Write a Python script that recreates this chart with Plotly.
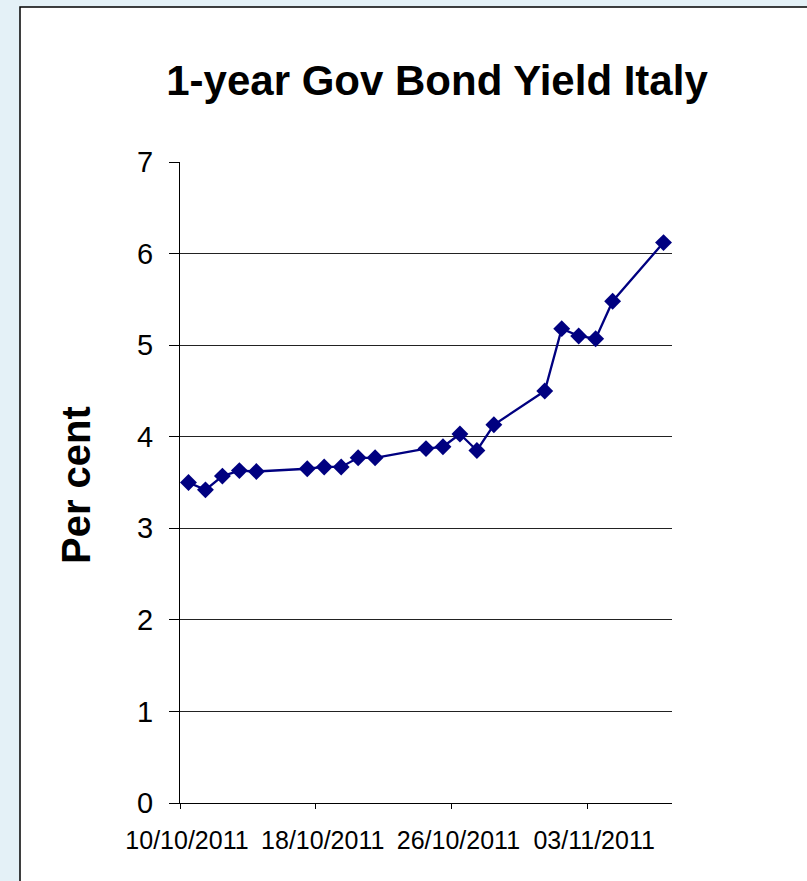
import pandas as pd
import plotly.graph_objects as go

# ---- data ----
dates = ["10/10/2011", "11/10/2011", "12/10/2011", "13/10/2011", "14/10/2011",
         "17/10/2011", "18/10/2011", "19/10/2011", "20/10/2011", "21/10/2011",
         "24/10/2011", "25/10/2011", "26/10/2011", "27/10/2011", "28/10/2011",
         "31/10/2011", "01/11/2011", "02/11/2011", "03/11/2011", "04/11/2011",
         "07/11/2011"]
yield_pct = [3.50, 3.42, 3.57, 3.63, 3.62,
             3.65, 3.67, 3.67, 3.77, 3.77,
             3.87, 3.89, 4.03, 3.85, 4.13,
             4.50, 5.18, 5.10, 5.07, 5.48,
             6.12]
tick_labels = ["10/10/2011", "18/10/2011", "26/10/2011", "03/11/2011"]
x_start, x_end = "10/10/2011", "08/11/2011"
y_ticks = [0, 1, 2, 3, 4, 5, 6, 7]

title_text = "1-year Gov Bond Yield Italy"
y_title = "Per cent"

# ---- layout geometry (pixels) ----
W, H = 807, 881
L, R, T, B = 180, 135, 162, 78
pw, ph = W - L - R, H - T - B

def px_x(p):
    return (p - L) / pw

def px_y(p):
    return (H - B - p) / ph

# Excel date axis: points sit in the middle of each day slot
x_vals = pd.to_datetime(dates, dayfirst=True) + pd.Timedelta(hours=12)
tick_vals = pd.to_datetime(tick_labels, dayfirst=True)
xr = pd.to_datetime([x_start, x_end], dayfirst=True)

FONT = "Liberation Sans, Arial, sans-serif"
NAVY = "#000080"
BG = "#e4f1f7"

fig = go.Figure()
fig.add_trace(go.Scatter(
    x=x_vals, y=yield_pct, mode="lines+markers",
    line=dict(color=NAVY, width=2.3),
    marker=dict(symbol="diamond", size=13, color=NAVY),
    showlegend=False, hoverinfo="x+y",
))

fig.update_layout(
    width=W, height=H,
    margin=dict(l=L, r=R, t=T, b=B, pad=0),
    paper_bgcolor=BG,
    plot_bgcolor="white",
    font=dict(family=FONT, color="black"),
    title=dict(text="<b>" + title_text + "</b>", font=dict(size=42, family=FONT, color="black"),
               x=437 / W, xanchor="center", xref="container",
               y=1 - 80 / H, yanchor="middle", yref="container"),
    xaxis=dict(
        type="date", range=[xr[0], xr[1]],
        tickmode="array", tickvals=tick_vals, ticktext=tick_labels,
        ticks="outside", ticklen=5, tickcolor="black", tickwidth=1,
        showline=True, linecolor="black", linewidth=1,
        showgrid=False, zeroline=False,
        tickfont=dict(size=25, family=FONT, color="black"),
        ticklabelstandoff=10, ticklabelshift=7,
    ),
    yaxis=dict(
        range=[0, 7], tickmode="array", tickvals=y_ticks,
        ticks="outside", ticklen=10, tickcolor="black", tickwidth=1,
        showline=True, linecolor="black", linewidth=1,
        showgrid=True, gridcolor="#222222", gridwidth=1,
        zeroline=False,
        tickfont=dict(size=29, family=FONT, color="black"),
        ticklabelstandoff=10,
    ),
    shapes=[dict(
        type="rect", xref="paper", yref="paper", layer="below",
        x0=px_x(20), x1=px_x(830), y0=px_y(900), y1=px_y(7),
        fillcolor="white", line=dict(color="black", width=1.5),
    )],
    annotations=[dict(
        text="<b>" + y_title + "</b>", textangle=-90,
        xref="paper", yref="paper", x=px_x(76), y=px_y(485),
        xanchor="center", yanchor="middle", showarrow=False,
        font=dict(size=40, family=FONT, color="black"),
    )],
)

fig.write_html("out.html",
               config={"displayModeBar": False},
               post_script="document.body.style.margin='0';document.body.style.background='%s';" % BG)
